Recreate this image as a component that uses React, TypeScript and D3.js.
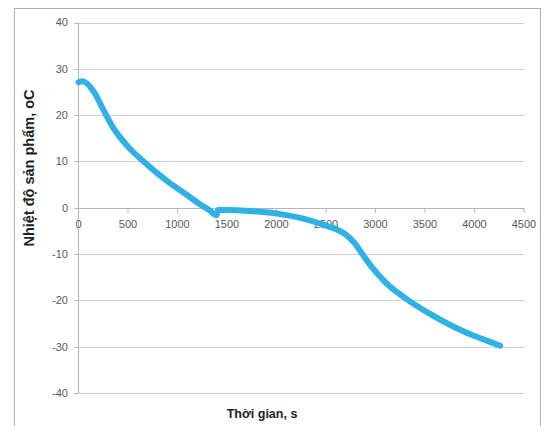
import * as d3 from "d3"

const WIDTH = 552
const HEIGHT = 426

// time, s
const timeValues = [0, 40, 150, 250, 350, 500, 700, 900, 1100, 1230, 1320, 1395, 1410, 1500, 1650, 1800, 1950, 2100, 2300, 2450, 2600, 2700, 2780, 2870, 2970, 3100, 3300, 3550, 3800, 4000, 4150, 4260]
// product temperature, oC
const tempValues = [27.1, 27.3, 25.2, 21.2, 17.3, 13.2, 9.2, 5.7, 2.7, 0.7, -0.5, -1.6, -0.5, -0.5, -0.6, -0.8, -1.1, -1.6, -2.5, -3.5, -4.6, -5.8, -7.4, -10.1, -13.0, -16.1, -19.5, -22.9, -25.8, -27.7, -28.9, -29.8]

const xTicks = [0, 500, 1000, 1500, 2000, 2500, 3000, 3500, 4000, 4500]
const yTicks = [40, 30, 20, 10, 0, -10, -20, -30, -40]

const xTitle = "Thời gian, s"
const yTitle = "Nhiệt độ sản phẩm, oC"

const PLOT = { left: 78.5, right: 524, top: 22.5, bottom: 393 }
const FONT = "'Liberation Sans', Arial, sans-serif"

export default function App() {
    const xScale = d3.scaleLinear().domain([0, 4500]).range([PLOT.left, PLOT.right])
    const yScale = d3.scaleLinear().domain([-40, 40]).range([PLOT.bottom, PLOT.top])

    const points = timeValues.map((t, i) => [t, tempValues[i]] as [number, number])
    const line = d3.line<[number, number]>()
        .x((d) => xScale(d[0]))
        .y((d) => yScale(d[1]))
        .curve(d3.curveMonotoneX)

    const zeroY = yScale(0)

    return (
        <svg width={WIDTH} height={HEIGHT} style={{ position: "absolute", left: 0, top: 0, background: "#fff" }}>
            {/* chart frame */}
            <rect x={14.5} y={8.5} width={526} height={430} fill="#fff" stroke="#b0b0b0" strokeWidth={1} />

            {/* gridlines */}
            {yTicks.filter((v) => v !== 0).map((v) => (
                <line key={"g" + v} x1={PLOT.left} x2={PLOT.right} y1={Math.round(yScale(v)) + 0.5} y2={Math.round(yScale(v)) + 0.5} stroke="#d0d0d0" />
            ))}

            {/* y axis */}
            <line x1={PLOT.left} x2={PLOT.left} y1={PLOT.top} y2={PLOT.bottom} stroke="#b5b5b5" />
            {yTicks.map((v) => (
                <g key={"y" + v}>
                    <line x1={PLOT.left - 4} x2={PLOT.left} y1={Math.round(yScale(v)) + 0.5} y2={Math.round(yScale(v)) + 0.5} stroke="#b5b5b5" />
                    <text x={68} y={yScale(v)} dy="0.35em" textAnchor="end" fontSize={11} fontFamily={FONT} fill="#595959">{v}</text>
                </g>
            ))}

            {/* x axis at zero */}
            <line x1={PLOT.left} x2={PLOT.right} y1={Math.round(zeroY) + 0.5} y2={Math.round(zeroY) + 0.5} stroke="#b5b5b5" />
            {xTicks.map((t) => (
                <g key={"x" + t}>
                    <line x1={xScale(t)} x2={xScale(t)} y1={zeroY} y2={zeroY + 5} stroke="#b5b5b5" />
                    <text x={xScale(t)} y={zeroY + 20} textAnchor="middle" fontSize={11} fontFamily={FONT} fill="#595959">{t}</text>
                </g>
            ))}

            {/* series */}
            <path d={line(points) ?? ""} fill="none" stroke="#2EB2E6" strokeWidth={6} strokeLinejoin="round" strokeLinecap="round" />

            {/* titles */}
            <text x={262} y={418} textAnchor="middle" fontSize={12.5} fontWeight="bold" fontFamily={FONT} fill="#222">{xTitle}</text>
            <text transform="translate(34,168) rotate(-90)" textAnchor="middle" fontSize={14.5} fontWeight="bold" fontFamily={FONT} fill="#222">{yTitle}</text>
        </svg>
    )
}
